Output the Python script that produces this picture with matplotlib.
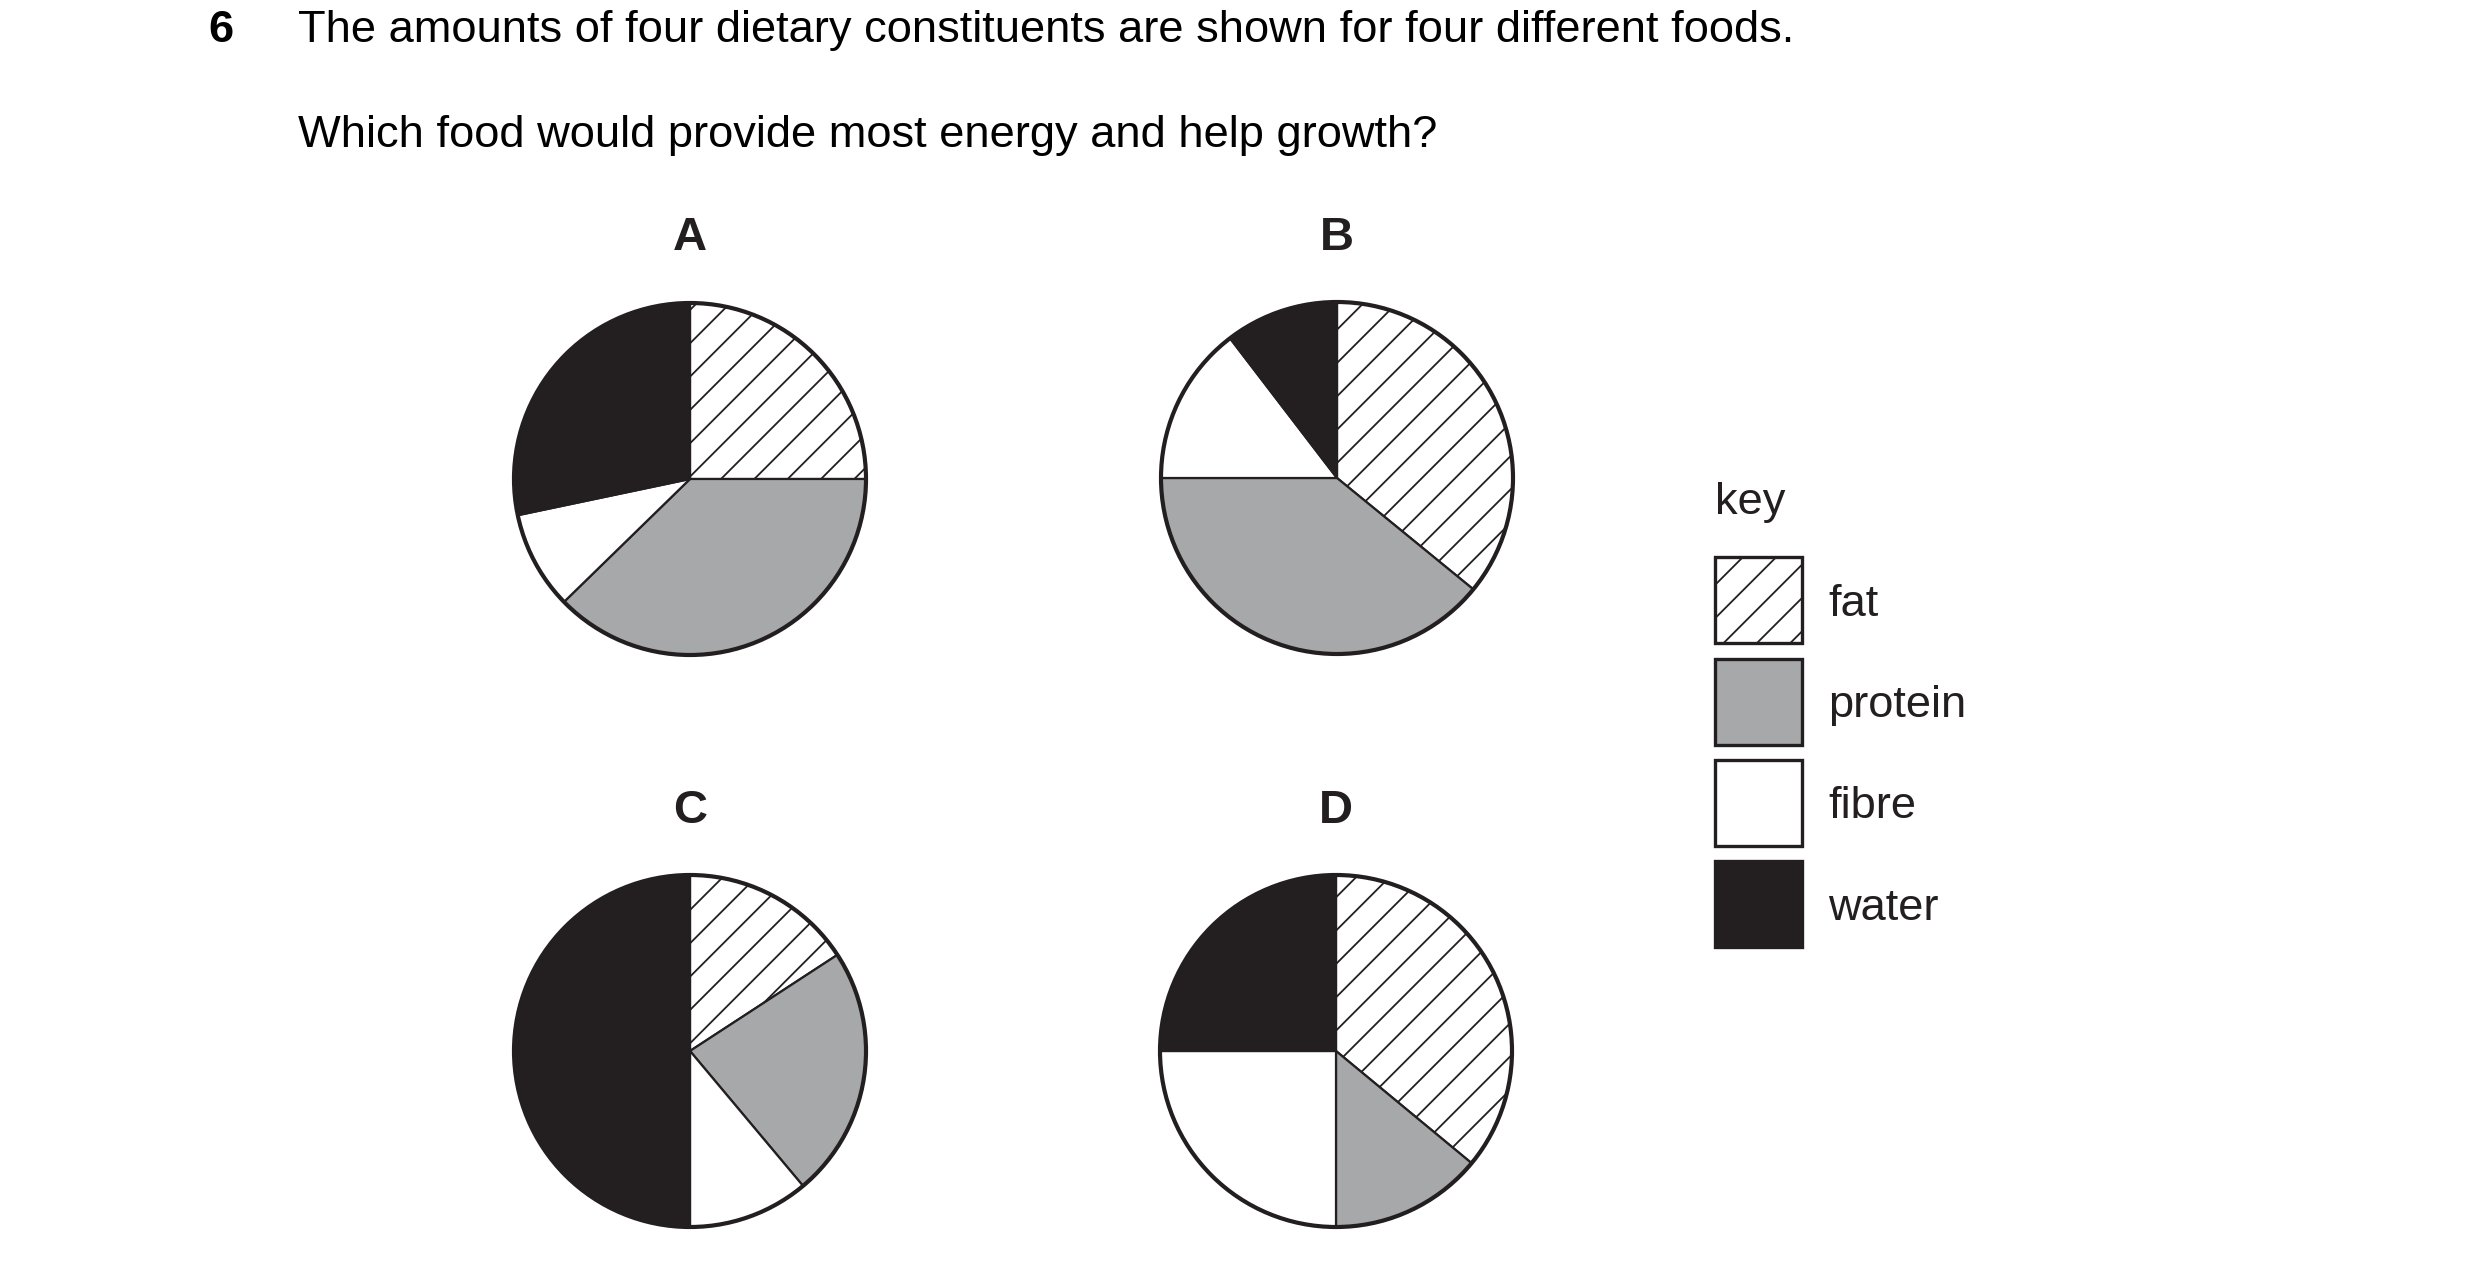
import matplotlib
matplotlib.use("Agg")
import matplotlib.pyplot as plt
from matplotlib.patches import Rectangle, Circle

plt.rcParams['font.family'] = ['Liberation Sans', 'DejaVu Sans']
plt.rcParams['hatch.linewidth'] = 0.65
plt.rcParams['hatch.color'] = '#231f20'

# ---- data ----
constituents = ['fat', 'protein', 'fibre', 'water']
food_labels = ['A', 'B', 'C', 'D']
food_A = [25.0, 37.7, 9.0, 28.3]
food_B = [35.9, 39.1, 14.6, 10.4]
food_C = [15.8, 23.1, 11.1, 50.0]
food_D = [36.0, 14.0, 25.0, 25.0]
foods = [food_A, food_B, food_C, food_D]

question_number = '6'
line1 = 'The amounts of four dietary constituents are shown for four different foods.'
line2 = 'Which food would provide most energy and help growth?'
key_title = 'key'

# ---- style ----
INK = '#231f20'
GREY = '#a7a8aa'
face_colors = ['white', GREY, 'white', INK]
hatches = ['//', None, None, None]

W, H = 2480, 1269
DPI = 200
fig = plt.figure(figsize=(W / DPI, H / DPI), dpi=DPI)
ax = fig.add_axes([0, 0, 1, 1])

def Y(y):
    return H - y

# pies
centers = [(690, 479), (1337, 478), (690, 1051), (1336, 1051)]
label_baselines = [250, 250, 823, 823]
R = 176
for vals, lab, (cx, cy), lb in zip(foods, food_labels, centers, label_baselines):
    wedges, _ = ax.pie(vals, colors=face_colors, startangle=90, counterclock=False,
                       center=(cx, Y(cy)), radius=R, frame=True,
                       wedgeprops=dict(edgecolor=INK, linewidth=0.8))
    for w, h in zip(wedges, hatches):
        if h:
            w.set_hatch(h)
    ax.add_patch(Circle((cx, Y(cy)), R, fill=False, edgecolor=INK, linewidth=1.5, zorder=5))
    ax.text(cx, Y(lb), lab, fontsize=17, fontweight='bold', ha='center',
            va='baseline', color=INK)

ax.set_xlim(0, W)
ax.set_ylim(0, H)
ax.set_aspect('equal')
ax.set_axis_off()

# header text
ax.text(208, Y(42), question_number, fontsize=16.3, fontweight='bold',
        ha='left', va='baseline', color='black')
ax.text(298, Y(42), line1, fontsize=16.3, ha='left', va='baseline', color='black')
ax.text(298, Y(147), line2, fontsize=16.3, ha='left', va='baseline', color='black')

# key
ax.text(1715, Y(514), key_title, fontsize=16.3, ha='left', va='baseline', color=INK)
box_tops = [557, 659, 760, 861]
box_w, box_h = 87, 86
text_baselines = [616, 717, 818, 920]
for name, fc, h, top, tb in zip(constituents, face_colors, hatches, box_tops, text_baselines):
    rect = Rectangle((1715, Y(top + box_h)), box_w, box_h, facecolor=fc,
                     edgecolor=INK, linewidth=1.2, hatch=h)
    ax.add_patch(rect)
    ax.text(1828, Y(tb), name, fontsize=16.3, ha='left', va='baseline', color=INK)

fig.savefig('out.png', dpi=DPI, facecolor='white')
